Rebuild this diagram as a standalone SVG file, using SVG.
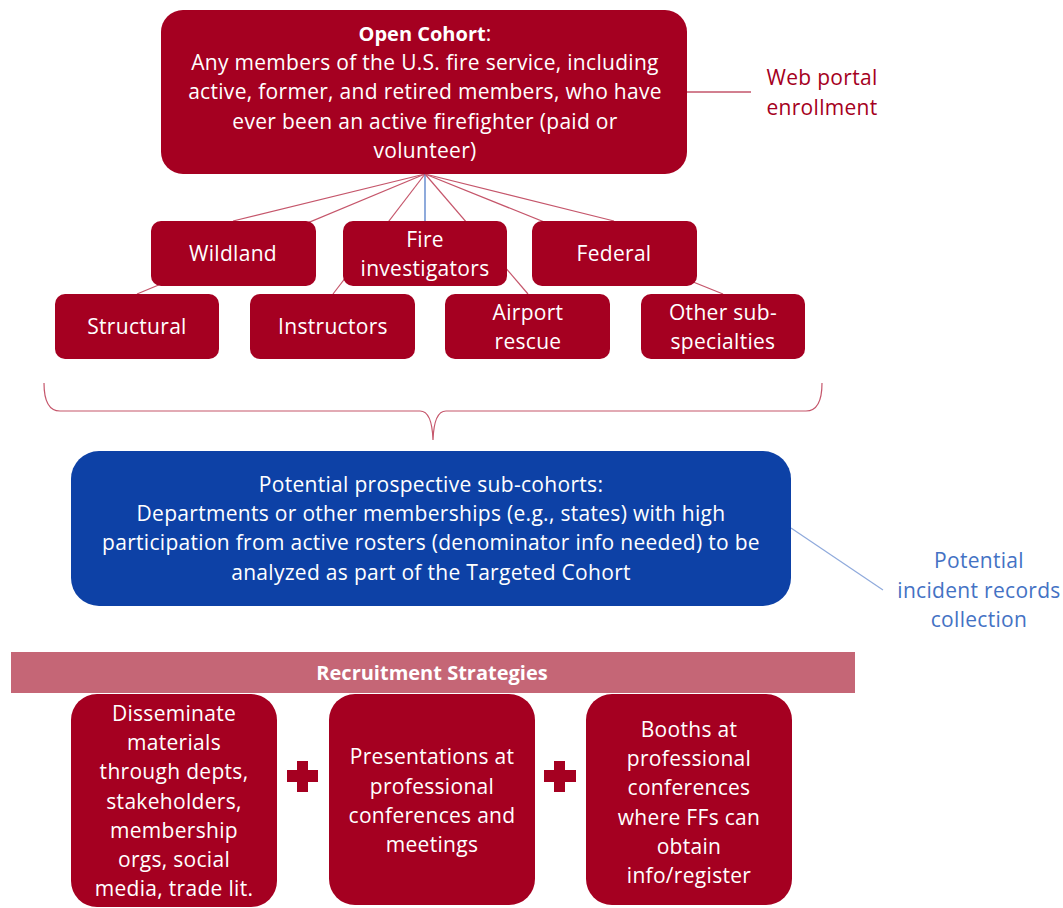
<svg xmlns="http://www.w3.org/2000/svg" width="1063" height="908" viewBox="0 0 1063 908">
<style>
.red{fill:#A50021}
.blue{fill:#0D41A6}
.t{font-family:"Open Sans","Liberation Sans",sans-serif;font-size:21px;letter-spacing:0.3px;fill:#fff;text-anchor:middle}
.b{font-weight:bold;font-size:20px;letter-spacing:0}
.lbl{font-family:"Open Sans","Liberation Sans",sans-serif;font-size:21px;letter-spacing:0.3px;text-anchor:middle}
.conn{stroke:#C5566B;stroke-width:1.2;fill:none}
</style>
<rect width="1063" height="908" fill="#fff"/>
<g id="connectors">
<line class="conn" x1="425" y1="174" x2="137" y2="294"/>
<line class="conn" x1="425" y1="174" x2="233" y2="221"/>
<line class="conn" x1="425" y1="174" x2="333" y2="294"/>
<line x1="425" y1="174" x2="425" y2="221" stroke="#4472C4" stroke-width="1.2"/>
<line class="conn" x1="425" y1="174" x2="528" y2="294"/>
<line class="conn" x1="425" y1="174" x2="614" y2="221"/>
<line class="conn" x1="425" y1="174" x2="723" y2="294"/>
<line x1="687" y1="92" x2="751" y2="92" stroke="#A50021" stroke-width="1"/>
<line x1="791" y1="528" x2="883" y2="590" stroke="#8FAADC" stroke-width="1.2"/>
<path d="M44,383 Q44,411 60,411 L420,411 Q432,411 433,440 Q434,411 446,411 L806,411 Q822,411 822,383" fill="none" stroke="#C5566B" stroke-width="1.2"/>
</g>
<g id="open-cohort">
<rect class="red" x="161" y="10" width="526" height="164" rx="22"/>
<text class="t" x="425" y="41"><tspan class="b">Open Cohort</tspan>:</text>
<text class="t" x="425" y="70">Any members of the U.S. fire service, including</text>
<text class="t" x="425" y="99">active, former, and retired members, who have</text>
<text class="t" x="425" y="129">ever been an active firefighter (paid or</text>
<text class="t" x="425" y="158">volunteer)</text>
</g>
<g id="web-portal">
<text class="lbl" fill="#A50021" x="822" y="85">Web portal</text>
<text class="lbl" fill="#A50021" x="822" y="115">enrollment</text>
</g>
<g id="structural"><rect class="red" x="55" y="294" width="164" height="65" rx="10"/><text class="t" x="137" y="334">Structural</text></g>
<g id="instructors"><rect class="red" x="250" y="294" width="165" height="65" rx="10"/><text class="t" x="333" y="334">Instructors</text></g>
<g id="airport-rescue"><rect class="red" x="445" y="294" width="165" height="65" rx="10"/><text class="t" x="528" y="320">Airport</text><text class="t" x="528" y="349">rescue</text></g>
<g id="other-sub"><rect class="red" x="641" y="294" width="164" height="65" rx="10"/><text class="t" x="723" y="320">Other sub-</text><text class="t" x="723" y="349">specialties</text></g>
<g id="wildland"><rect class="red" x="151" y="221" width="165" height="65" rx="10"/><text class="t" x="233" y="261">Wildland</text></g>
<g id="fire-investigators"><rect class="red" x="343" y="221" width="164" height="65" rx="10"/><text class="t" x="425" y="247">Fire</text><text class="t" x="425" y="276">investigators</text></g>
<g id="federal"><rect class="red" x="532" y="221" width="165" height="65" rx="10"/><text class="t" x="614" y="261">Federal</text></g>
<g id="sub-cohorts">
<rect class="blue" x="71" y="451" width="720" height="155" rx="28"/>
<text class="t" x="431" y="492">Potential prospective sub-cohorts:</text>
<text class="t" x="431" y="521">Departments or other memberships (e.g., states) with high</text>
<text class="t" x="431" y="550">participation from active rosters (denominator info needed) to be</text>
<text class="t" x="431" y="580">analyzed as part of the Targeted Cohort</text>
</g>
<g id="incident-records">
<text class="lbl" fill="#4472C4" x="979" y="568">Potential</text>
<text class="lbl" fill="#4472C4" x="979" y="598">incident records</text>
<text class="lbl" fill="#4472C4" x="979" y="627">collection</text>
</g>
<g id="recruitment">
<rect x="11" y="652" width="844" height="41" fill="#C56676"/>
<text class="t b" x="432" y="680">Recruitment Strategies</text>
</g>
<g id="disseminate">
<rect class="red" x="71" y="694" width="206" height="213" rx="26"/>
<text class="t" x="174" y="721">Disseminate</text>
<text class="t" x="174" y="750">materials</text>
<text class="t" x="174" y="779">through depts,</text>
<text class="t" x="174" y="809">stakeholders,</text>
<text class="t" x="174" y="838">membership</text>
<text class="t" x="174" y="867">orgs, social</text>
<text class="t" x="174" y="896">media, trade lit.</text>
</g>
<g id="plus1"><rect class="red" x="297" y="761" width="11" height="31"/><rect class="red" x="287" y="770" width="31" height="12"/></g>
<g id="presentations">
<rect class="red" x="329" y="694" width="206" height="211" rx="26"/>
<text class="t" x="432" y="764">Presentations at</text>
<text class="t" x="432" y="794">professional</text>
<text class="t" x="432" y="823">conferences and</text>
<text class="t" x="432" y="852">meetings</text>
</g>
<g id="plus2"><rect class="red" x="554" y="761" width="11" height="31"/><rect class="red" x="544" y="770" width="32" height="12"/></g>
<g id="booths">
<rect class="red" x="586" y="694" width="206" height="211" rx="26"/>
<text class="t" x="689" y="737">Booths at</text>
<text class="t" x="689" y="766">professional</text>
<text class="t" x="689" y="795">conferences</text>
<text class="t" x="689" y="825">where FFs can</text>
<text class="t" x="689" y="854">obtain</text>
<text class="t" x="689" y="883">info/register</text>
</g>
</svg>
